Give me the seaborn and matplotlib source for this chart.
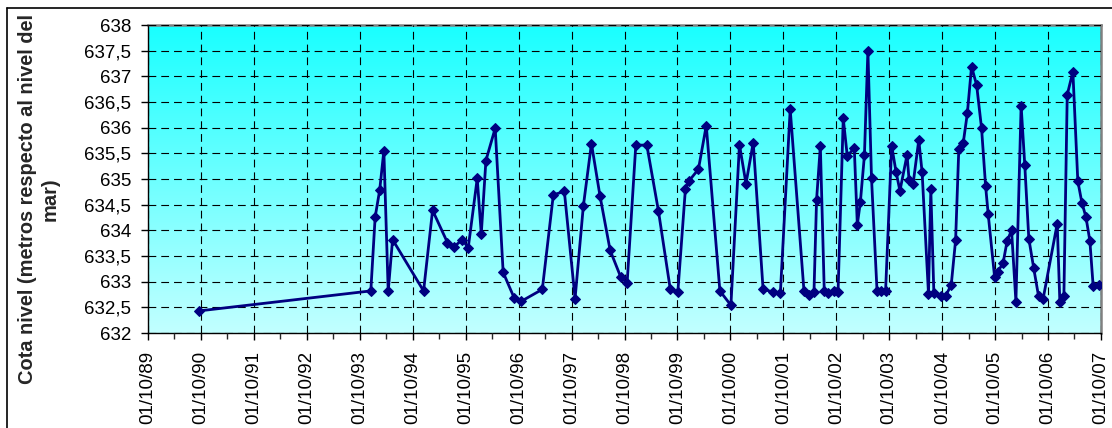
import numpy as np
import pandas as pd
import matplotlib
matplotlib.use("Agg")
import matplotlib.pyplot as plt
import matplotlib.dates as mdates
from matplotlib.colors import LinearSegmentedColormap
from matplotlib.ticker import FuncFormatter, MultipleLocator
import seaborn as sns

fechas = [
    "1990-09-17", "1993-12-16", "1994-01-15", "1994-02-15", "1994-03-16", "1994-04-15",
    "1994-05-15", "1994-12-15", "1995-02-15", "1995-05-29", "1995-07-14", "1995-09-08",
    "1995-10-19", "1995-12-20", "1996-01-17", "1996-02-18", "1996-04-22", "1996-06-16",
    "1996-08-30", "1996-10-20", "1997-03-13", "1997-05-28", "1997-08-12", "1997-10-25",
    "1997-12-21", "1998-02-15", "1998-04-15", "1998-06-24", "1998-09-05", "1998-10-19",
    "1998-12-18", "1999-03-04", "1999-05-23", "1999-08-13", "1999-10-04", "1999-11-25",
    "1999-12-22", "2000-02-23", "2000-04-17", "2000-07-20", "2000-10-04", "2000-12-02",
    "2001-01-16", "2001-03-07", "2001-05-14", "2001-07-23", "2001-09-10", "2001-11-17",
    "2002-02-20", "2002-03-24", "2002-04-30", "2002-05-18", "2002-06-13", "2002-07-10",
    "2002-08-07", "2002-09-15", "2002-10-13", "2002-11-18", "2002-12-16", "2003-02-02",
    "2003-02-23", "2003-03-16", "2003-04-13", "2003-05-07", "2003-06-01", "2003-07-09",
    "2003-08-06", "2003-09-06", "2003-10-18", "2003-11-17", "2003-12-14", "2004-02-01",
    "2004-02-15", "2004-03-14", "2004-04-22", "2004-05-15", "2004-06-28", "2004-07-14",
    "2004-08-04", "2004-09-19", "2004-10-24", "2004-12-02", "2005-01-01", "2005-01-23",
    "2005-02-23", "2005-03-23", "2005-04-21", "2005-05-26", "2005-06-29", "2005-07-27",
    "2005-08-14", "2005-09-27", "2005-10-19", "2005-11-25", "2005-12-23", "2006-01-22",
    "2006-02-21", "2006-03-29", "2006-04-23", "2006-05-21", "2006-06-24", "2006-07-27",
    "2006-08-28", "2006-12-03", "2006-12-21", "2007-01-18", "2007-02-10", "2007-03-21",
    "2007-04-24", "2007-05-22", "2007-06-19", "2007-07-16", "2007-08-08", "2007-09-19",
]
cota = [
    632.43, 632.82, 634.26, 634.78, 635.55, 632.81,
    633.82, 632.82, 634.39, 633.76, 633.68, 633.82,
    633.66, 635.01, 633.93, 635.36, 635.99, 633.18,
    632.69, 632.62, 632.85, 634.69, 634.76, 632.67,
    634.47, 635.69, 634.67, 633.61, 633.09, 632.97,
    635.66, 635.66, 634.38, 632.85, 632.80, 634.80,
    634.97, 635.19, 636.04, 632.82, 632.54, 635.67,
    634.91, 635.71, 632.85, 632.80, 632.77, 636.36,
    632.82, 632.75, 632.79, 634.60, 635.64, 632.82,
    632.78, 632.82, 632.79, 636.18, 635.44, 635.61,
    634.11, 634.55, 635.46, 637.50, 635.01, 632.82,
    632.82, 632.82, 635.65, 635.14, 634.77, 635.47,
    634.98, 634.91, 635.76, 635.13, 632.76, 634.80,
    632.78, 632.72, 632.72, 632.94, 633.81, 635.58,
    635.71, 636.28, 637.19, 636.83, 635.99, 634.86,
    634.31, 633.09, 633.19, 633.37, 633.80, 634.00,
    632.61, 636.43, 635.28, 633.84, 633.26, 632.72,
    632.67, 634.13, 632.61, 632.72, 636.64, 637.09,
    634.96, 634.54, 634.26, 633.80, 632.91, 632.94,
]

df = pd.DataFrame({"fecha": pd.to_datetime(fechas), "cota": cota})

sns.set_style("ticks")
plt.rcParams["font.family"] = ["Liberation Sans", "DejaVu Sans"]

fig = plt.figure(figsize=(11.12, 4.28), dpi=100)
ax = fig.add_axes([148 / 1112, 1 - 333 / 428, (1101 - 148) / 1112, (333 - 25) / 428])

# gradient background (light cyan at the bottom, cyan at the top)
cmap = LinearSegmentedColormap.from_list("fondo", ["#C2FFFF", "#19FFFF"])
grad = np.linspace(0, 1, 256).reshape(-1, 1)
ax.imshow(grad, extent=[0, 1, 0, 1], transform=ax.transAxes, aspect="auto",
          cmap=cmap, origin="lower", zorder=0)

sns.lineplot(data=df, x="fecha", y="cota", ax=ax, color="#000080", linewidth=2,
             marker="D", markersize=5.5, markeredgecolor="#000080", zorder=3)

ax.set_xlim(pd.Timestamp("1989-10-01"), pd.Timestamp("2007-10-01"))
ax.set_ylim(632, 638)
ax.set_autoscale_on(False)

ax.xaxis.set_major_locator(mdates.MonthLocator(bymonth=10, bymonthday=1))
ax.xaxis.set_minor_locator(mdates.MonthLocator(bymonth=4, bymonthday=1))
ax.xaxis.set_major_formatter(mdates.DateFormatter("%d/%m/%y"))
ax.yaxis.set_major_locator(MultipleLocator(0.5))
ax.yaxis.set_major_formatter(FuncFormatter(lambda v, p: f"{v:g}".replace(".", ",")))

ax.grid(True, which="major", color="black", linewidth=0.8, linestyle=(0, (7, 4.5)))
ax.set_axisbelow(False)
for gl in ax.get_xgridlines() + ax.get_ygridlines():
    gl.set_zorder(1)

ax.tick_params(axis="both", which="major", direction="out", length=5, width=1,
               colors="black", labelsize=13.5, pad=7)
ax.tick_params(axis="x", which="major", labelrotation=90, pad=8)
ax.tick_params(axis="x", which="minor", direction="out", length=4, width=1)

for s in ["left", "bottom"]:
    ax.spines[s].set_color("black")
    ax.spines[s].set_linewidth(1)
for s in ["top", "right"]:
    ax.spines[s].set_color("#808080")
    ax.spines[s].set_linewidth(1.8)

ax.set_xlabel("")
ax.set_ylabel("")
fig.text(39 / 1112, 1 - 199 / 428, "Cota nivel (metros respecto al nivel del\nmar)",
         rotation=90, ha="center", va="center", multialignment="center",
         fontsize=14.4, fontweight="bold", linespacing=1.2)

# outer chart frame (top and left edges visible)
fig.add_artist(plt.Line2D([7 / 1112, 1], [1 - 7.5 / 428, 1 - 7.5 / 428],
                          color="black", linewidth=1.2, transform=fig.transFigure))
fig.add_artist(plt.Line2D([7 / 1112, 7 / 1112], [0, 1 - 7.5 / 428],
                          color="black", linewidth=1.2, transform=fig.transFigure))

fig.savefig("out.png", dpi=100)
